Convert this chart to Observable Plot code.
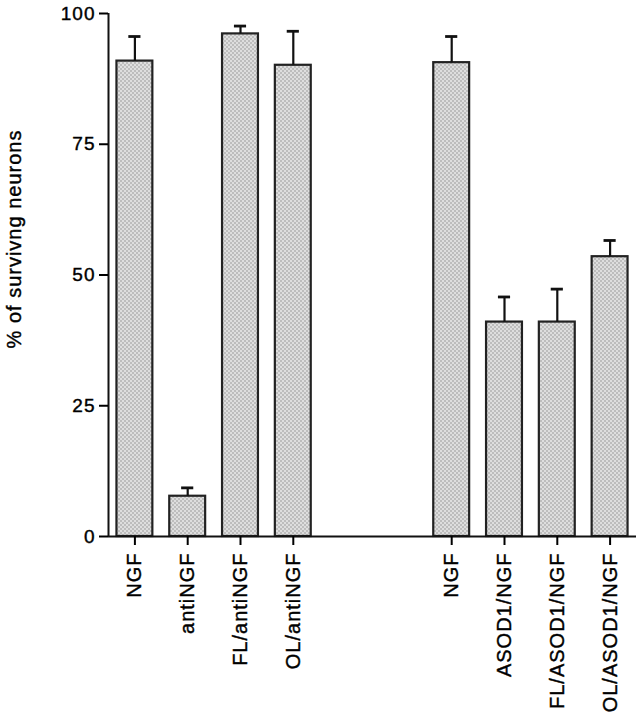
<!DOCTYPE html>
<html>
<head>
<meta charset="utf-8">
<script src="https://cdn.jsdelivr.net/npm/d3@7"></script>
<script src="https://cdn.jsdelivr.net/npm/@observablehq/plot@0.6"></script>
<style>
  html, body { margin: 0; padding: 0; background: #fff; }
  #chart { width: 642px; height: 720px; }
</style>
</head>
<body>
<div id="chart"></div>
<script>
// Category labels (left group, then right group)
const categories = ["NGF", "antiNGF", "FL/antiNGF", "OL/antiNGF", "NGF", "ASOD1/NGF", "FL/ASOD1/NGF", "OL/ASOD1/NGF"];
// Slot index of each category along the x axis (two empty slots separate the groups)
const slots = [0, 1, 2, 3, 6, 7, 8, 9];
// Mean % of surviving neurons
const means = [90.9, 7.7, 96.1, 90.1, 90.6, 41.0, 41.0, 53.5];
// Upper end of the error bar
const uppers = [95.6, 9.3, 97.6, 96.6, 95.6, 45.8, 47.3, 56.6];
// Y tick values
const yTicks = [0, 25, 50, 75, 100];
const yLabel = "% of survivng neurons";

const data = categories.map((c, i) => ({ label: c, slot: slots[i], mean: means[i], upper: uppers[i] }));
const labelBySlot = new Map(data.map(d => [d.slot, d.label]));

const halfBar = 0.34;
const halfCap = 0.115;

const plot = Plot.plot({
  width: 642,
  height: 720,
  marginLeft: 108,
  marginRight: 6,
  marginTop: 13,
  marginBottom: 184,
  style: { fontFamily: "'Liberation Sans', Arial, Helvetica, sans-serif", color: "#000", background: "#fff" },
  x: { type: "linear", domain: [-0.5, 9.5] },
  y: { domain: [0, 100] },
  marks: [
    Plot.rectY(data, {
      x1: d => d.slot - halfBar,
      x2: d => d.slot + halfBar,
      y1: 0,
      y2: "mean",
      fill: "url(#chk)",
      stroke: "#222",
      strokeWidth: 2.2
    }),
    Plot.ruleX(data, { x: "slot", y1: "mean", y2: "upper", stroke: "#111", strokeWidth: 2.2 }),
    Plot.ruleY(data, { y: "upper", x1: d => d.slot - halfCap, x2: d => d.slot + halfCap, stroke: "#111", strokeWidth: 2.8 }),
    Plot.ruleY([0], { stroke: "#111", strokeWidth: 2 }),
    Plot.ruleX([-0.5], { y1: 0, y2: 100, stroke: "#111", strokeWidth: 2 }),
    Plot.axisY({
      ticks: yTicks,
      tickSize: 9,
      tickPadding: 4,
      fontSize: 19,
      strokeWidth: 2,
      label: null,
      tickFormat: d => String(d)
    }),
    Plot.axisX({
      ticks: slots,
      tickFormat: s => labelBySlot.get(s),
      tickRotate: -90,
      tickSize: 9,
      tickPadding: 7,
      fontSize: 20,
      strokeWidth: 2,
      label: null
    }),
    Plot.text([yLabel], {
      text: d => d,
      frameAnchor: "left",
      dx: -94,
      dy: -36,
      rotate: -90,
      fontSize: 20,
      textAnchor: "middle",
      fill: "#000"
    })
  ]
});

// checker pattern for bar fill
const ns = "http://www.w3.org/2000/svg";
const defs = document.createElementNS(ns, "defs");
defs.innerHTML = `<pattern id="chk" width="4" height="4" patternUnits="userSpaceOnUse">
  <rect width="4" height="4" fill="#dedede"></rect>
  <rect width="2" height="2" fill="#bdbdbd"></rect>
  <rect x="2" y="2" width="2" height="2" fill="#bdbdbd"></rect>
</pattern>`;
plot.insertBefore(defs, plot.firstChild);

plot.querySelectorAll("text").forEach(t => {
  t.setAttribute("letter-spacing", "1");
  t.setAttribute("stroke", "#000");
  t.setAttribute("stroke-width", "0.4");
});

document.getElementById("chart").appendChild(plot);
</script>
</body>
</html>
